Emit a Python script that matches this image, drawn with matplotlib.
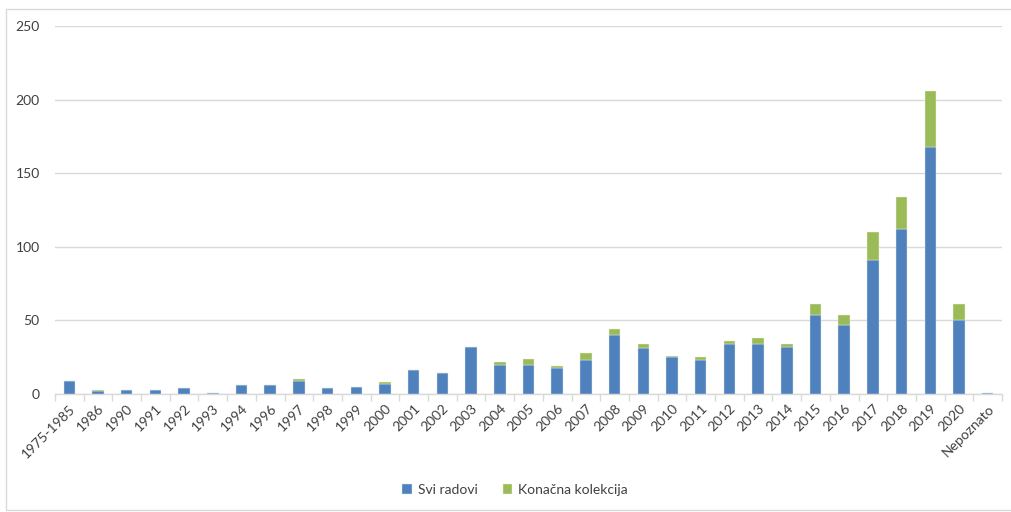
import numpy as np
import matplotlib.pyplot as plt
from matplotlib.patches import Rectangle

plt.rcParams['font.family'] = ['Lato', 'DejaVu Sans']

years = ['1975-1985', '1986', '1990', '1991', '1992', '1993', '1994', '1996',
         '1997', '1998', '1999', '2000', '2001', '2002', '2003', '2004', '2005',
         '2006', '2007', '2008', '2009', '2010', '2011', '2012', '2013', '2014',
         '2015', '2016', '2017', '2018', '2019', '2020', 'Nepoznato']
svi_radovi = [9, 2, 3, 3, 4, 1, 6, 6, 9, 4, 5, 7, 16, 14, 32, 20, 20,
              18, 23, 40, 31, 25, 23, 34, 34, 32, 54, 47, 91, 112, 168, 50, 1]
konacna = [0, 1, 0, 0, 0, 0, 0, 0, 1, 0, 0, 1, 0, 0, 0, 2, 4,
           1, 5, 4, 3, 1, 2, 2, 4, 2, 7, 7, 19, 22, 38, 11, 0]

blue = '#4f81bd'
green = '#9bbb59'
grid_c = '#d9d9d9'

fig = plt.figure(figsize=(10.11, 5.12), dpi=100)
ax = fig.add_axes([55/1011, 1-394/512, (1002-55)/1011, (394-26)/512])

x = np.arange(len(years))
ax.bar(x, svi_radovi, width=0.4, color=blue, edgecolor='#dce6f2', linewidth=0.3,
       label='Svi radovi', zorder=3)
ax.bar(x, konacna, width=0.4, bottom=svi_radovi, color=green, edgecolor='#ebf1de',
       linewidth=0.3, label='Konačna kolekcija', zorder=3)

ax.set_xlim(-0.5, len(years) - 0.5)
ax.set_ylim(0, 250)
ax.set_yticks(np.arange(0, 251, 50))
ax.yaxis.grid(True, color=grid_c, lw=1, zorder=0)
ax.tick_params(axis='y', length=0, labelsize=10, colors='#404040', pad=11)

ax.set_xticks(x)
ax.set_xticklabels(years, rotation=45, ha='right', rotation_mode='anchor')
ax.set_xticks(np.arange(-0.5, len(years), 1), minor=True)
ax.tick_params(axis='x', which='major', length=0, labelsize=10, colors='#404040', pad=6)
ax.tick_params(axis='x', which='minor', length=5, color=grid_c, width=1)

for s in ['top', 'right', 'left']:
    ax.spines[s].set_visible(False)
ax.spines['bottom'].set_color(grid_c)
ax.spines['bottom'].set_linewidth(1)

fig.legend(loc='center', bbox_to_anchor=(515/1011, 1-490/512), ncol=2, frameon=False,
           fontsize=10, handlelength=0.7, handleheight=0.7, handletextpad=0.4,
           columnspacing=1.8, labelcolor='#404040')

fig.patches.append(Rectangle((6/1011, 1-510/512), 1.0, (510-9)/512,
                             transform=fig.transFigure, fill=False,
                             edgecolor=grid_c, lw=1))

fig.savefig('out.png', dpi=100)
